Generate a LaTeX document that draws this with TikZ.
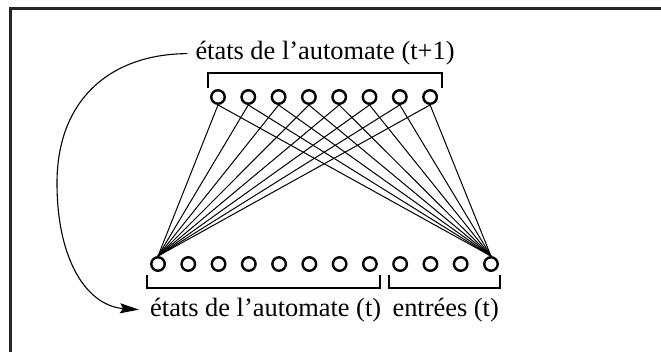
\documentclass[tikz,border=0pt]{standalone}
\usepackage{fontspec}
\setmainfont{Liberation Serif}
\usetikzlibrary{arrows.meta,positioning}

\begin{document}
\begin{tikzpicture}[x=1bp,y=-1bp,
  every node/.style={font=\fontsize{26.5}{30}\selectfont,inner sep=0pt},
  unit/.style={circle,draw,line width=2.4bp,minimum size=13.5bp},
  link/.style={line width=1bp},
  brace/.style={line width=1.4bp}]
  \useasboundingbox (0,0) rectangle (661,351);
  \clip (0,0) rectangle (661,351);
  \draw[line width=3bp,black!85] (10.5,8.5) rectangle (700,400);

  % neurones t+1 et t
  \foreach \i in {1,...,8}
    \node[unit] (t\i) at ({218+(\i-1)*30.3},97) {};
  \foreach \i in {1,...,12}
    \node[unit] (b\i) at ({158+(\i-1)*30.27},264) {};

  \foreach \i in {1,...,8} {
    \draw[link] (t\i.south) -- (b1.north);
    \draw[link] (t\i.south) -- (b12.north);
  }

  % accolades
  \draw[brace] (208,88) -- (208,73) -- (442,73) -- (442,88);
  \draw[brace] (147,275) -- (147,288) -- (380,288) -- (380,275);
  \draw[brace] (389,275) -- (389,288) -- (500,288) -- (500,275);

  \node[anchor=base] (toplbl) at (325,59) {états de l’automate (t+1)};
  \node[anchor=base west] (statelbl) at (150,316) {états de l’automate (t)};
  \node[anchor=base east] (inlbl) at (499,316) {entrées (t)};

  \coordinate (from) at ([xshift=-8bp,yshift=-1bp]toplbl.west);
  \coordinate (to) at ([xshift=-11bp]statelbl.west);
  \draw[line width=1.1bp,-{Stealth[length=19bp,width=10bp,inset=3bp]}]
    (from) .. controls (110,54) and (57,100) .. (57,183)
    .. controls (57,262) and (88,306) .. (to);
\end{tikzpicture}
\end{document}
